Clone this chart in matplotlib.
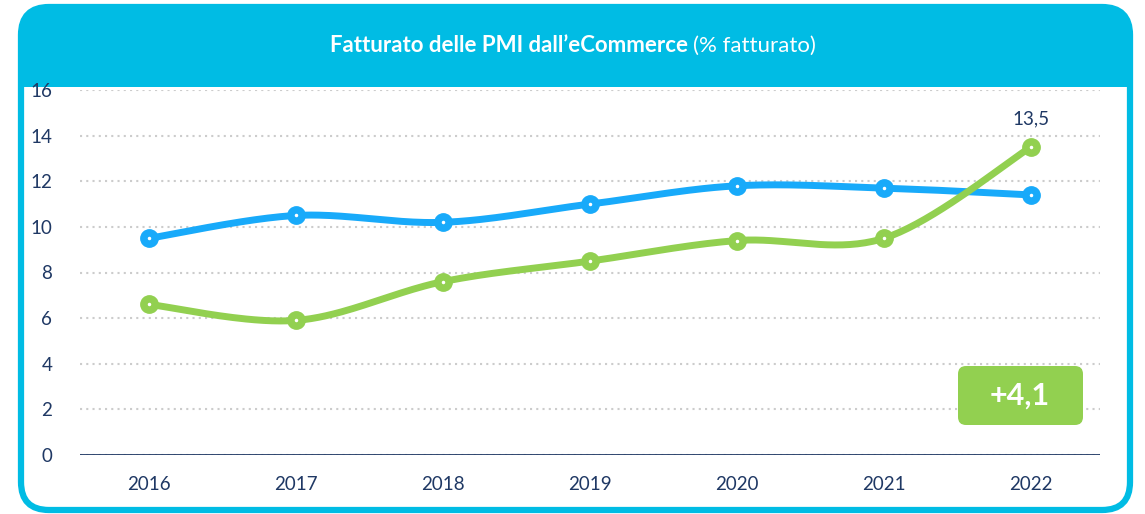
import numpy as np
import matplotlib.pyplot as plt
from matplotlib.patches import FancyBboxPatch, Rectangle

# dati
anni = ["2016", "2017", "2018", "2019", "2020", "2021", "2022"]
serie_blu = [9.5, 10.5, 10.2, 11.0, 11.8, 11.7, 11.4]
serie_verde = [6.6, 5.9, 7.6, 8.5, 9.4, 9.5, 13.5]
etichetta_ultimo = "13,5"
delta = "+4,1"

CIANO = "#00BCE4"
BLU = "#18AAFA"
VERDE = "#92D050"
NAVY = "#1F3864"
FONT = "Lato"

W, H = 1145, 514


def curva_liscia(x, y, n=40):
    # Catmull-Rom come bezier (simile allo smoothing di Excel)
    x = np.asarray(x, float)
    y = np.asarray(y, float)
    px = np.concatenate([[x[0]], x, [x[-1]]])
    py = np.concatenate([[y[0]], y, [y[-1]]])
    xs, ys = [], []
    t = np.linspace(0, 1, n)
    for i in range(1, len(px) - 2):
        p0 = np.array([px[i], py[i]])
        p3 = np.array([px[i + 1], py[i + 1]])
        c1 = p0 + (np.array([px[i + 1], py[i + 1]]) - np.array([px[i - 1], py[i - 1]])) / 6
        c2 = p3 - (np.array([px[i + 2], py[i + 2]]) - np.array([px[i], py[i]])) / 6
        b = ((1 - t) ** 3)[:, None] * p0 + (3 * (1 - t) ** 2 * t)[:, None] * c1 \
            + (3 * (1 - t) * t ** 2)[:, None] * c2 + (t ** 3)[:, None] * p3
        xs.append(b[:, 0])
        ys.append(b[:, 1])
    return np.concatenate(xs), np.concatenate(ys)


fig = plt.figure(figsize=(W / 100, H / 100), dpi=100)

# cornice arrotondata
cornice = FancyBboxPatch((21 / W, 1 - 510 / H), (1130 - 21) / W, (510 - 7) / H,
                         boxstyle="round,pad=0,rounding_size=%f" % (28 / W),
                         mutation_aspect=W / H, transform=fig.transFigure,
                         facecolor="white", edgecolor=CIANO, linewidth=4.5, zorder=-2)
fig.patches.append(cornice)
testata = Rectangle((0, 1 - 87 / H), 1, 87 / H, transform=fig.transFigure,
                    facecolor=CIANO, edgecolor="none", zorder=-1)
testata.set_clip_path(cornice)
fig.patches.append(testata)

fig.text(688 / W, 1 - 46 / H, "Fatturato delle PMI dall\u2019eCommerce", color="white",
         fontsize=16, fontweight="bold", family=FONT, ha="right", va="center")
fig.text(693 / W, 1 - 46 / H, "(% fatturato)", color="white",
         fontsize=16, family=FONT, ha="left", va="center")

ax = fig.add_axes([80 / W, 1 - 455 / H, (1100 - 80) / W, (455 - 90) / H])
ax.set_zorder(1)
ax.set_facecolor("none")
x = np.arange(len(anni))

for serie, col in [(serie_blu, BLU), (serie_verde, VERDE)]:
    xs, ys = curva_liscia(x, serie)
    ax.plot(xs, ys, color=col, linewidth=5, solid_capstyle="round", zorder=3, clip_on=False)
    ax.plot(x, serie, "o", color=col, markersize=12.5, zorder=4, clip_on=False)
    ax.plot(x, serie, "o", color="white", markersize=1.5, zorder=5, clip_on=False)

ax.annotate(etichetta_ultimo, (x[-1], serie_verde[-1]), xytext=(0, 14),
            textcoords="offset points", ha="center", va="bottom",
            color=NAVY, fontsize=13.5, family=FONT)

ax.set_xlim(-0.47, len(anni) - 0.53)
ax.set_ylim(0, 16)
ax.set_yticks(np.arange(0, 17, 2))
ax.set_xticks(x)
ax.set_xticklabels(anni)
ax.grid(axis="y", color="#CCCCCC", linestyle=(0, (1, 2)), linewidth=1.5, zorder=1)
ax.axhline(0, color=NAVY, linewidth=2, zorder=2)
for s in ax.spines.values():
    s.set_visible(False)
ax.tick_params(length=0, labelsize=13.5, labelcolor=NAVY)
ax.tick_params(axis="y", pad=20)
ax.tick_params(axis="x", pad=15)
for lab in ax.get_xticklabels() + ax.get_yticklabels():
    lab.set_family(FONT)

# riquadro variazione
box = FancyBboxPatch((958 / W, 1 - 425 / H), 125 / W, 59 / H,
                     boxstyle="round,pad=0,rounding_size=%f" % (8 / W),
                     mutation_aspect=W / H, transform=fig.transFigure,
                     facecolor=VERDE, edgecolor="none", zorder=6)
fig.patches.append(box)
fig.text(1020 / W, 1 - 396 / H, delta, color="white", fontsize=22, fontweight="bold",
         family=FONT, ha="center", va="center", zorder=7)

fig.savefig("out.png", dpi=100)
